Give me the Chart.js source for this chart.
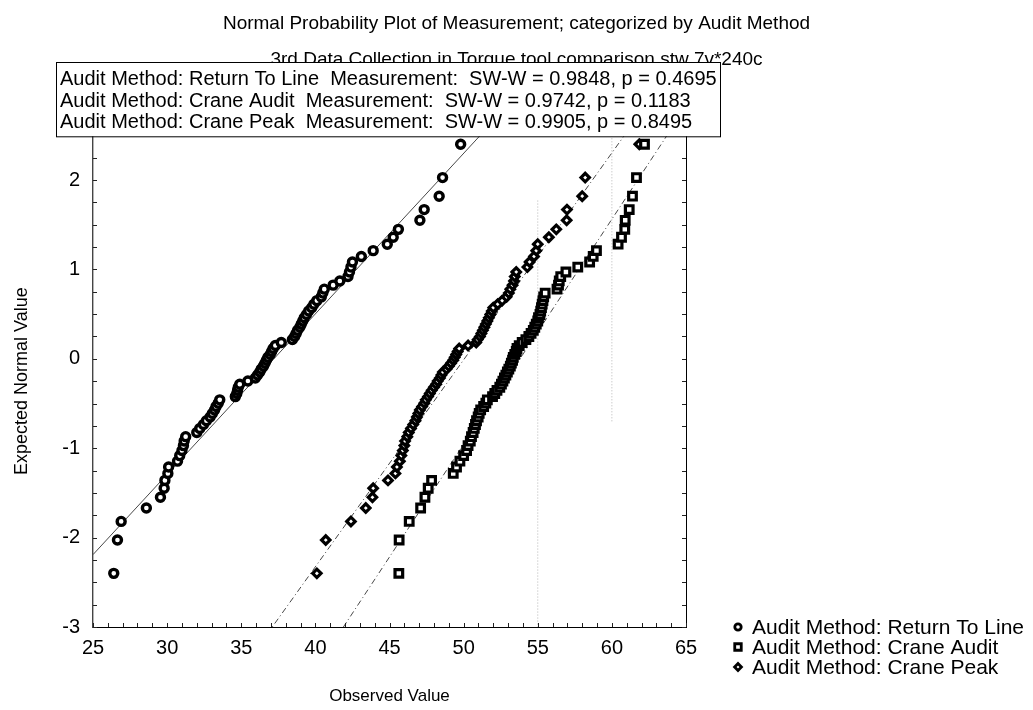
<!DOCTYPE html>
<html>
<head>
<meta charset="utf-8">
<script src="https://cdn.jsdelivr.net/npm/chart.js@4.4.1/dist/chart.umd.min.js"></script>
<style>
  html, body { margin: 0; padding: 0; background: #ffffff; }
  #wrap { width: 1033px; height: 710px; position: relative; }
</style>
</head>
<body>
<div id="wrap"><canvas id="c" width="1033" height="710"></canvas></div>
<script>
// ---------- DATA ----------
// Expected normal values (y) shared by the three samples (n = 76 each)
const expectedNormal = [
  -2.400, -2.027, -1.819, -1.669, -1.549, -1.448, -1.360, -1.282, -1.210, -1.145,
  -1.083, -1.026, -0.971, -0.920, -0.871, -0.824, -0.779, -0.735, -0.693, -0.651,
  -0.611, -0.572, -0.534, -0.496, -0.459, -0.423, -0.388, -0.353, -0.318, -0.284,
  -0.249, -0.215, -0.182, -0.148, -0.115, -0.082, -0.049, -0.016,
   0.016,  0.049,  0.082,  0.115,  0.148,  0.182,  0.215,  0.249,  0.284,  0.318,
   0.353,  0.388,  0.423,  0.459,  0.496,  0.534,  0.572,  0.611,  0.651,  0.693,
   0.735,  0.779,  0.824,  0.871,  0.920,  0.971,  1.026,  1.083,  1.145,  1.210,
   1.282,  1.360,  1.448,  1.549,  1.669,  1.819,  2.027,  2.400
];

// Observed values (x), sorted, one per expected normal value
const returnToLine = [
  26.4, 26.65, 26.9, 28.6, 29.55, 29.8, 29.85, 30.05, 30.1, 30.7,
  30.85, 31.0, 31.1, 31.15, 31.25, 32.0, 32.2, 32.45, 32.65, 32.9,
  33.05, 33.2, 33.3, 33.45, 33.55, 34.6, 34.7, 34.75, 34.8, 34.9,
  35.45, 35.95, 36.1, 36.25, 36.35, 36.5, 36.6, 36.7,
  36.8, 36.95, 37.05, 37.15, 37.3, 37.7, 38.45, 38.6, 38.7, 38.8,
  38.95, 39.05, 39.15, 39.25, 39.4, 39.55, 39.75, 39.9, 40.1, 40.4,
  40.5, 40.6, 41.2, 41.65, 42.2, 42.3, 42.4, 42.5, 43.1, 43.9,
  44.85, 45.25, 45.6, 47.05, 47.34, 48.35, 48.58, 49.8
];
const craneAudit = [
  45.63, 45.65, 46.33, 47.1, 47.39, 47.61, 47.84, 49.3, 49.52, 49.75,
  50.0, 50.2, 50.3, 50.45, 50.53, 50.64, 50.72, 50.8, 50.87, 50.98,
  51.05, 51.15, 51.35, 51.5, 51.6, 51.95, 52.1, 52.25, 52.44, 52.55,
  52.65, 52.75, 52.85, 52.95, 53.05, 53.15, 53.22, 53.3,
  53.35, 53.45, 53.55, 53.6, 53.75, 53.95, 54.2, 54.4, 54.55, 54.7,
  54.8, 54.9, 55.0, 55.05, 55.15, 55.2, 55.25, 55.3, 55.35, 55.4,
  55.5, 56.3, 56.4, 56.45, 56.55, 56.9, 57.7, 58.5, 58.74, 58.96,
  60.42, 60.65, 60.87, 60.9, 61.17, 61.39, 61.66, 62.2
];
const cranePeak = [
  40.1, 40.7, 42.4, 43.4, 43.85, 43.9, 44.9, 45.4, 45.5, 45.7,
  45.8, 45.9, 46.0, 46.05, 46.2, 46.3, 46.45, 46.6, 46.75, 46.85,
  46.95, 47.05, 47.2, 47.35, 47.45, 47.6, 47.72, 47.85, 48.0, 48.15,
  48.25, 48.4, 48.5, 48.6, 48.85, 49.0, 49.15, 49.3,
  49.4, 49.5, 49.6, 49.7, 50.3, 50.85, 50.95, 51.1, 51.2, 51.3,
  51.4, 51.5, 51.6, 51.7, 51.8, 51.9, 52.0, 52.3, 52.6, 52.9,
  53.05, 53.15, 53.3, 53.4, 53.45, 53.55, 54.3, 54.45, 54.75, 54.9,
  55.0, 55.75, 56.25, 56.95, 56.97, 58.0, 58.2, 61.85
];

const seriesNames = ['Audit Method: Return To Line', 'Audit Method: Crane Audit', 'Audit Method: Crane Peak'];
const swW = ['0.9848', '0.9742', '0.9905'];
const swP = ['0.4695', '0.1183', '0.8495'];
// Fitted normal lines: mean and standard deviation per sample
const fitMean = [37.2, 53.8, 50.05];
const fitSd = [5.57, 3.97, 4.32];
// faint dotted vertical reference marks: [x, yTop, yBottom]
const refLines = [[55, 1.77, -3], [60, 2.5, -0.7]];

const xMin = 25, xMax = 65, xStep = 5;
const yMin = -3, yMax = 2.5, yStep = 1;
const titleText = 'Normal Probability Plot of Measurement; categorized by Audit Method';
const subtitleText = '3rd Data Collection in Torque tool comparison stw 7v*240c';
const xTitle = 'Observed Value';
const yTitle = 'Expected Normal Value';

// ---------- CHART ----------
const FONT = "'Liberation Sans', Arial, Helvetica, sans-serif";
Chart.defaults.font.family = FONT;
Chart.defaults.color = '#000';

const toPoints = (xs) => xs.map((v, i) => ({ x: v, y: expectedNormal[i] }));
const fitLine = (k) => [xMin, xMax].map(x => ({ x: x, y: (x - fitMean[k]) / fitSd[k] }));

const pointStyles = [
  { pointStyle: 'circle', radius: 4.0, borderWidth: 3.4 },
  { pointStyle: 'rect', radius: 5.4, borderWidth: 3.2 },
  { pointStyle: 'rectRot', radius: 4.2, borderWidth: 3.2 }
];
const seriesData = [returnToLine, craneAudit, cranePeak];
const fitDash = [[], [6, 3, 1, 3], [6, 3, 1, 3]];

const datasets = [];
refLines.forEach(r => datasets.push({
  type: 'line', data: [{ x: r[0], y: r[1] }, { x: r[0], y: r[2] }],
  borderColor: '#b5b5b5', borderWidth: 1, borderDash: [1, 2], pointRadius: 0, order: 10
}));
for (let k = 0; k < 3; k++) {
  datasets.push({
    type: 'line', data: fitLine(k), borderColor: '#333', borderWidth: 0.9,
    borderDash: fitDash[k], pointRadius: 0, order: 5
  });
}
for (let k = 0; k < 3; k++) {
  datasets.push({
    type: 'scatter', label: seriesNames[k], data: toPoints(seriesData[k]),
    pointStyle: pointStyles[k].pointStyle, pointRadius: pointStyles[k].radius,
    pointBorderWidth: pointStyles[k].borderWidth, borderColor: '#000',
    backgroundColor: '#fff', pointHoverRadius: pointStyles[k].radius, order: 1
  });
}

// inner minor ticks on the frame
const frameTicks = {
  id: 'frameTicks',
  afterDatasetsDraw(chart) {
    const { ctx, chartArea: a, scales: { x, y } } = chart;
    ctx.save();
    ctx.strokeStyle = '#222';
    ctx.lineWidth = 1;
    ctx.beginPath();
    for (let v = xMin; v <= xMax + 1e-9; v += 1) {
      const px = Math.round(x.getPixelForValue(v)) + 0.5;
      ctx.moveTo(px, a.bottom); ctx.lineTo(px, a.bottom - 4);
    }
    for (let v = yMin; v <= yMax + 1e-9; v += 0.25) {
      const py = Math.round(y.getPixelForValue(v)) + 0.5;
      ctx.moveTo(a.left, py); ctx.lineTo(a.left + 4, py);
      ctx.moveTo(a.right, py); ctx.lineTo(a.right - 4, py);
    }
    ctx.stroke();
    ctx.restore();
  }
};

// statistics box (top) and legend (bottom right)
const textBoxes = {
  id: 'textBoxes',
  afterDraw(chart) {
    const { ctx, chartArea: a } = chart;
    ctx.save();
    // statistics box
    const bx = 56, by = 62, bw = 720 - 56, bh = a.top + 1 - 62;
    ctx.fillStyle = '#fff';
    ctx.fillRect(bx, by, bw, bh);
    ctx.strokeStyle = '#000';
    ctx.lineWidth = 1;
    ctx.strokeRect(bx + 0.5, by + 0.5, bw, bh);
    ctx.fillStyle = '#000';
    ctx.font = '20px ' + FONT;
    ctx.textBaseline = 'alphabetic';
    ctx.textAlign = 'left';
    for (let k = 0; k < 3; k++) {
      const line = seriesNames[k] + '  Measurement:  SW-W = ' + swW[k] + ', p = ' + swP[k];
      ctx.fillText(line, 60, 85 + k * 21.5);
    }
    // legend
    const lx = 738, tx = 752;
    ctx.font = '21px ' + FONT;
    ctx.textBaseline = 'middle';
    for (let k = 0; k < 3; k++) {
      const ly = a.bottom + k * 20;
      ctx.fillStyle = '#fff';
      ctx.strokeStyle = '#000';
      ctx.lineWidth = 2.8;
      Chart.helpers.drawPoint(ctx, { pointStyle: pointStyles[k].pointStyle, radius: pointStyles[k].radius - 0.8, borderWidth: 2.8, rotation: 0 }, lx, ly);
      ctx.fillStyle = '#000';
      ctx.fillText(seriesNames[k], tx, ly + 1);
    }
    ctx.restore();
  }
};

new Chart(document.getElementById('c'), {
  type: 'scatter',
  data: { datasets: datasets },
  options: {
    responsive: false,
    animation: false,
    devicePixelRatio: 1,
    layout: { padding: { left: 0, right: 0, top: 0, bottom: 0 } },
    plugins: {
      legend: { display: false },
      tooltip: { enabled: false },
      title: {
        display: true, text: titleText, color: '#000',
        font: { size: 19, weight: 'normal', family: FONT },
        padding: { top: 12, bottom: 11.8 }
      },
      subtitle: {
        display: true, text: subtitleText, color: '#000',
        font: { size: 19, weight: 'normal', family: FONT },
        padding: { top: 2, bottom: 63.9 }
      }
    },
    scales: {
      x: {
        type: 'linear', position: 'bottom', min: xMin, max: xMax,
        ticks: { stepSize: xStep, font: { size: 20 }, color: '#000', padding: 9, maxRotation: 0 },
        grid: { display: true, drawOnChartArea: false, drawTicks: false },
        border: { display: true, color: '#000', width: 1 },
        title: { display: true, text: xTitle, font: { size: 17 }, color: '#000', padding: { top: 0, bottom: 3 } },
        afterFit(s) { s.height = 83; }
      },
      y: {
        type: 'linear', position: 'left', min: yMin, max: yMax,
        ticks: { stepSize: yStep, includeBounds: false, font: { size: 20 }, color: '#000', padding: 13 },
        grid: { display: true, drawOnChartArea: false, drawTicks: false },
        border: { display: true, color: '#444', width: 1.4 },
        title: { display: true, text: yTitle, font: { size: 18 }, color: '#000', padding: { top: 11, bottom: 0 } },
        afterFit(s) { s.width = 93; }
      },
      y2: {
        type: 'linear', position: 'right', min: yMin, max: yMax,
        ticks: { display: false },
        grid: { display: true, drawOnChartArea: false, drawTicks: false },
        border: { display: true, color: '#000', width: 1 },
        afterFit(s) { s.width = 347; }
      }
    }
  },
  plugins: [frameTicks, textBoxes]
});
</script>
</body>
</html>
